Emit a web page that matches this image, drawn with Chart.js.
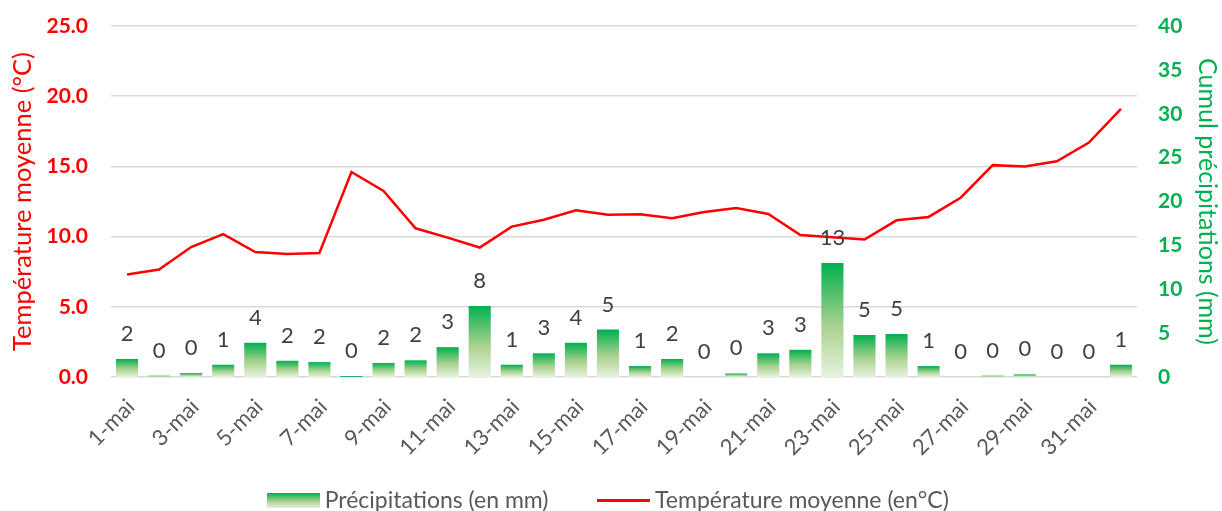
<!DOCTYPE html>
<html>
<head>
<meta charset="utf-8">
<script src="https://cdn.jsdelivr.net/npm/chart.js@4.4.1/dist/chart.umd.min.js"></script>
<style>
  html, body { margin: 0; padding: 0; background: #fff; }
</style>
</head>
<body>
<canvas id="meteo" width="1222" height="511"></canvas>
<script>
// jours du mois (le dernier point est le 1er juin, sans étiquette)
const jours = ['1-mai', '2-mai', '3-mai', '4-mai', '5-mai', '6-mai', '7-mai', '8-mai',
  '9-mai', '10-mai', '11-mai', '12-mai', '13-mai', '14-mai', '15-mai', '16-mai',
  '17-mai', '18-mai', '19-mai', '20-mai', '21-mai', '22-mai', '23-mai', '24-mai',
  '25-mai', '26-mai', '27-mai', '28-mai', '29-mai', '30-mai', '31-mai', '1-juin'];

// précipitations journalières (mm)
const pluie = [2.05, 0.15, 0.45, 1.4, 3.9, 1.85, 1.7, 0.1, 1.6, 1.9, 3.4, 8.1, 1.4, 2.7, 3.9, 5.4,
  1.25, 2.05, 0, 0.4, 2.7, 3.1, 13.0, 4.8, 4.9, 1.25, 0, 0.15, 0.3, 0, 0, 1.4];

// température moyenne (°C)
const temperature = [7.3, 7.65, 9.26, 10.18, 8.9, 8.76, 8.83, 14.6, 13.25, 10.59, 9.93, 9.22,
  10.71, 11.2, 11.87, 11.56, 11.6, 11.3, 11.75, 12.03, 11.61, 10.11, 9.95, 9.79, 11.16, 11.4,
  12.77, 15.09, 15.0, 15.37, 16.7, 19.1];

const ticksTemp = [0, 5, 10, 15, 20, 25];
const ticksPluie = [0, 5, 10, 15, 20, 25, 30, 35, 40];

const VERT = '#00b050';
const ROUGE = '#ff0000';
const POLICE = 'Lato';

function degrade(g, y0, y1) {
  const d = g.createLinearGradient(0, y0, 0, y1);
  d.addColorStop(0, VERT);
  d.addColorStop(0.55, '#a9d18e');
  d.addColorStop(1, '#e6f2df');
  return d;
}

// remplissage dégradé de chaque barre
function couleurBarre(context) {
  const chart = context.chart;
  if (!chart.chartArea || context.raw === undefined) return VERT;
  const echelle = chart.scales.y2;
  const haut = echelle.getPixelForValue(context.raw);
  const bas = echelle.getPixelForValue(0);
  if (bas - haut < 1) return VERT;
  return degrade(chart.ctx, haut, bas);
}

function vignette(w, h, dessin) {
  const c = document.createElement('canvas');
  c.width = w;
  c.height = h;
  dessin(c.getContext('2d'), w, h);
  return c;
}
const boitePluie = vignette(53, 15, (g, w, h) => { g.fillStyle = degrade(g, 0, h); g.fillRect(0, 0, w, h); });
const traitTemp = vignette(53, 3, (g, w, h) => { g.fillStyle = ROUGE; g.fillRect(0, 0, w, h); });

// espace entre les deux entrées de légende
const mesure = document.createElement('canvas').getContext('2d');
mesure.font = '23px ' + POLICE;
const blancs = ' '.repeat(Math.round(48 / mesure.measureText(' ').width));

// valeurs arrondies au-dessus des barres
const etiquettesPluie = {
  id: 'etiquettesPluie',
  afterDatasetsDraw(chart) {
    const meta = chart.getDatasetMeta(0);
    const ctx = chart.ctx;
    ctx.save();
    ctx.font = '22px ' + POLICE;
    ctx.fillStyle = '#404040';
    ctx.textAlign = 'center';
    ctx.textBaseline = 'alphabetic';
    meta.data.forEach((barre, i) => {
      ctx.fillText(String(Math.round(pluie[i])), barre.x, barre.y - 18);
    });
    ctx.restore();
  }
};

const chart = new Chart(document.getElementById('meteo'), {
  type: 'bar',
  data: {
    labels: jours,
    datasets: [{
      type: 'bar',
      label: 'Précipitations (en mm)',
      data: pluie,
      yAxisID: 'y2',
      backgroundColor: couleurBarre,
      barPercentage: 0.69,
      categoryPercentage: 1,
      order: 2
    }, {
      type: 'line',
      label: 'Température moyenne (en°C)',
      data: temperature,
      yAxisID: 'y',
      borderColor: ROUGE,
      borderWidth: 2.5,
      pointRadius: 0,
      tension: 0,
      fill: false,
      order: 1
    }]
  },
  options: {
    responsive: false,
    animation: false,
    layout: { padding: { top: 26, left: 0, right: 0, bottom: -11 } },
    plugins: {
      tooltip: { enabled: false },
      legend: {
        position: 'bottom',
        labels: {
          usePointStyle: true,
          pointStyleWidth: 40,
          padding: 8,
          color: '#595959',
          font: { family: POLICE, size: 23 },
          generateLabels: () => [
            { text: 'Précipitations (en mm)' + blancs, pointStyle: boitePluie, fontColor: '#595959', datasetIndex: 0, lineWidth: 0 },
            { text: 'Température moyenne (en°C)', pointStyle: traitTemp, fontColor: '#595959', datasetIndex: 1, lineWidth: 0 }
          ]
        }
      }
    },
    scales: {
      x: {
        grid: { display: false, drawTicks: false },
        border: { display: false },
        ticks: {
          autoSkip: false,
          minRotation: 45,
          maxRotation: 45,
          padding: 17,
          labelOffset: 4,
          color: '#595959',
          font: { family: POLICE, size: 22 },
          callback: function (v, i) { return i % 2 === 0 ? this.getLabelForValue(v) : ''; }
        },
        afterFit: s => { s.height = 104; }
      },
      y: {
        position: 'left',
        min: 0,
        max: 25,
        afterBuildTicks: s => { s.ticks = ticksTemp.map(v => ({ value: v })); },
        ticks: {
          padding: 23,
          color: ROUGE,
          font: { family: POLICE, size: 21, weight: 'bold', lineHeight: 0.2 },
          callback: v => v.toFixed(1)
        },
        grid: { color: '#d9d9d9', lineWidth: 1.5, drawTicks: false },
        border: { display: false },
        title: {
          display: true,
          text: 'Température moyenne (°C)',
          color: ROUGE,
          font: { family: POLICE, size: 25.5 },
          padding: { top: 7, bottom: 0 }
        },
        afterFit: s => { s.width = 111; }
      },
      y2: {
        position: 'right',
        min: 0,
        max: 40,
        afterBuildTicks: s => { s.ticks = ticksPluie.map(v => ({ value: v })); },
        ticks: {
          padding: 21,
          color: VERT,
          font: { family: POLICE, size: 21, weight: 'bold', lineHeight: 0.2 }
        },
        grid: { display: false, drawTicks: false },
        border: { display: false },
        title: {
          display: true,
          text: 'Cumul précipitations (mm)',
          color: VERT,
          font: { family: POLICE, size: 25 },
          padding: { top: 0, bottom: 0 }
        },
        afterFit: s => { s.width = 85; }
      }
    }
  },
  plugins: [etiquettesPluie]
});
</script>
</body>
</html>
